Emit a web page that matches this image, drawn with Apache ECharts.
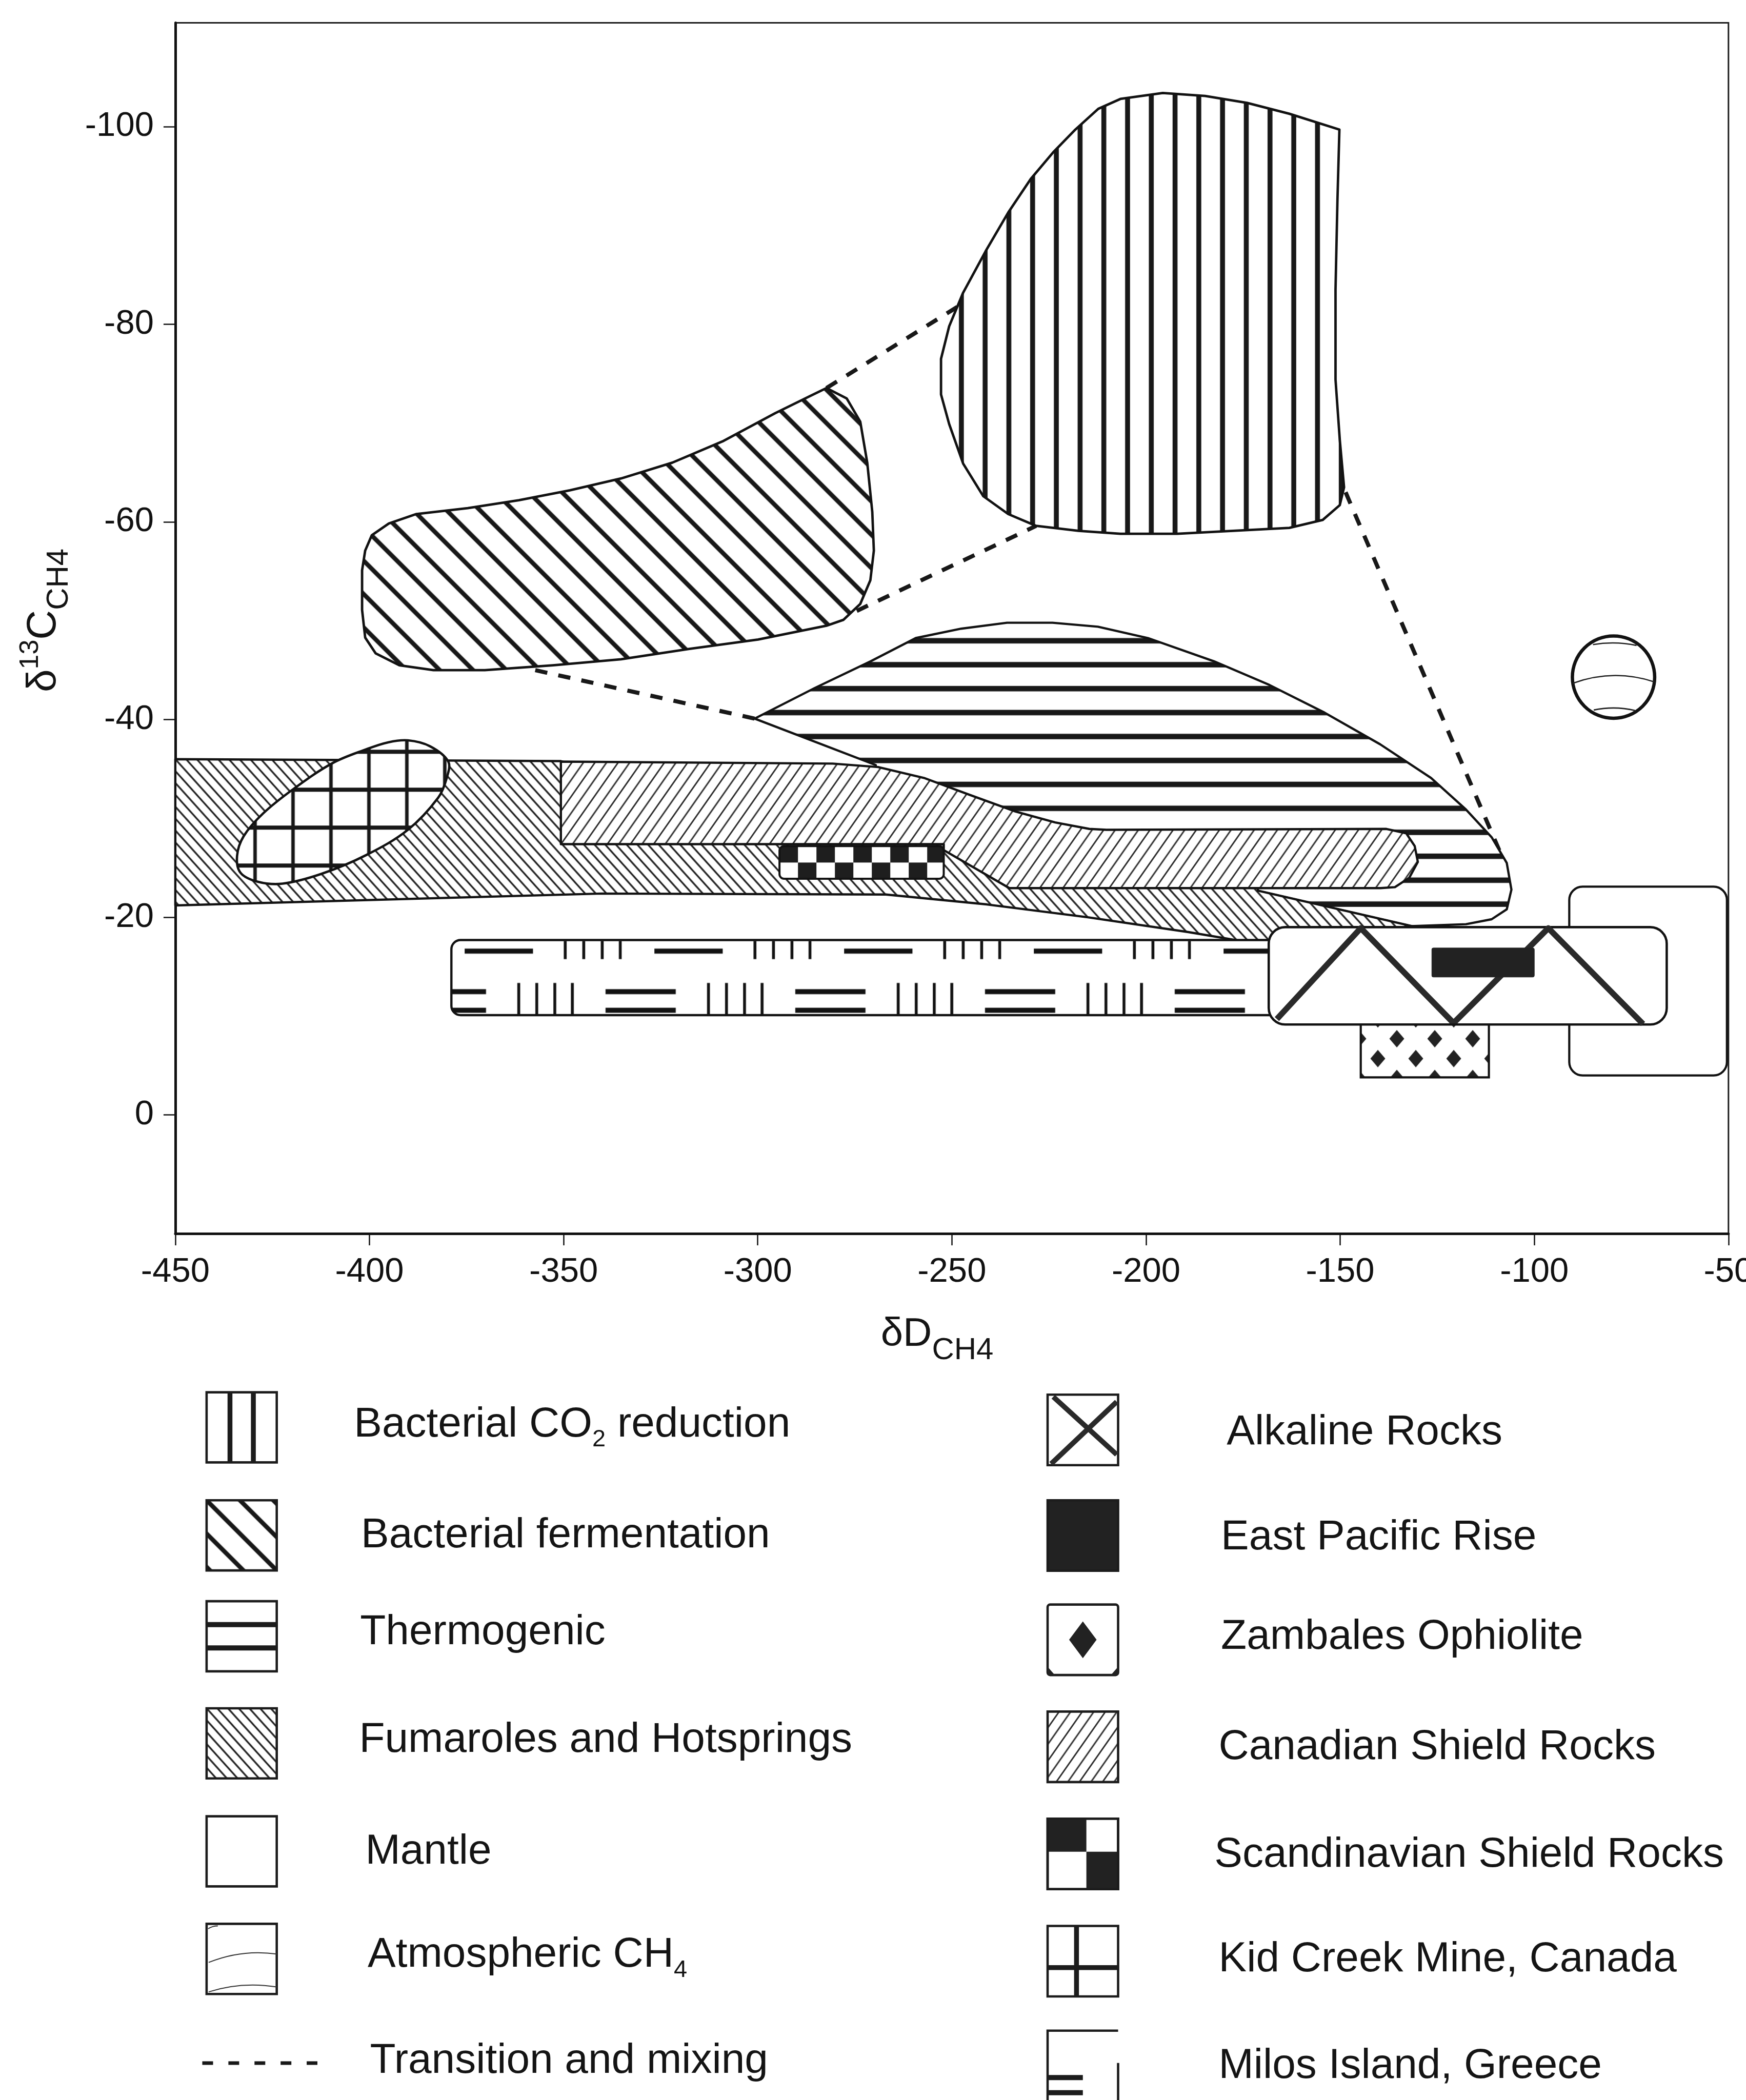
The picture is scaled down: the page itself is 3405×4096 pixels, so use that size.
<!DOCTYPE html>
<html>
<head>
<meta charset="utf-8">
<title>Methane isotope fields</title>
<script src="https://cdn.jsdelivr.net/npm/echarts@6/dist/echarts.min.js"></script>
<style>
html,body{margin:0;padding:0;background:#ffffff;}
#chart{width:3405px;height:4096px;}
</style>
</head>
<body>
<div id="chart"></div>
<script>
// ================= DATA =================
const xTicks = [-450, -400, -350, -300, -250, -200, -150, -100, -50];
const yTicks = [-100, -80, -60, -40, -20, 0];

// field outlines: [deltaD, delta13C]
const co2Reduction = [
  [-150.2,-99.7],[-163.1,-101.3],[-174.0,-102.4],[-184.8,-103.1],[-195.7,-103.4],[-206.6,-102.8],
  [-212.3,-101.8],[-218.2,-99.7],[-223.9,-97.4],[-229.7,-94.7],[-235.5,-91.3],[-241.3,-87.4],
  [-247.1,-83.2],[-250.7,-79.8],[-252.8,-76.5],[-252.8,-72.9],[-250.7,-69.9],[-247.1,-65.9],
  [-241.9,-62.6],[-235.5,-60.8],[-228.3,-59.6],[-217.4,-59.1],[-206.6,-58.8],[-192.0,-58.8],
  [-177.6,-59.1],[-163.1,-59.4],[-154.5,-60.2],[-150.1,-61.7],[-149.0,-63.5],[-150.1,-68.3],
  [-151.2,-74.4],[-151.2,-83.5],[-150.7,-92.6]
];
const fermentation = [
  [-282.3,-73.55],[-277.1,-72.5],[-273.6,-70.15],[-271.8,-66.0],[-270.5,-61.0],[-270.1,-57.1],
  [-271.0,-54.1],[-273.6,-51.7],[-277.9,-50.1],[-282.3,-49.5],[-299.9,-48.1],[-317.6,-47.15],
  [-335.2,-46.1],[-352.7,-45.5],[-370.3,-45.0],[-383.5,-45.0],[-392.3,-45.5],[-398.4,-46.7],
  [-401.1,-48.3],[-401.9,-51.1],[-401.9,-55.1],[-401.1,-57.1],[-399.4,-58.65],[-395.0,-59.85],
  [-387.9,-60.8],[-374.7,-61.4],[-361.5,-62.2],[-348.4,-63.2],[-335.2,-64.4],[-322.0,-66.0],
  [-308.8,-68.2],[-295.5,-71.0],[-286.7,-72.7]
];
const thermogenic = [
  [-300.8,-40.1],[-285.3,-43.2],[-270.9,-45.9],[-259.3,-48.25],[-247.6,-49.2],[-235.8,-49.8],
  [-224.1,-49.8],[-212.4,-49.4],[-199.5,-48.25],[-182.5,-45.9],[-168.2,-43.5],[-154.0,-40.7],
  [-139.7,-37.5],[-126.6,-34.1],[-117.6,-30.9],[-111.0,-28.1],[-107.1,-25.5],[-105.9,-22.8],
  [-107.1,-20.8],[-111.0,-19.8],[-117.6,-19.3],[-131.8,-19.1],[-171.5,-22.7],[-214.5,-25.6],
  [-263.3,-31.3],[-269.6,-34.2],[-269.6,-35.4]
];
const fumaroles = [
  [-450,-36.0],[-350.7,-35.8],[-312.1,-31.3],[-238.9,-26.5],[-171.2,-23.2],[-171.2,-22.7],
  [-131.5,-19.1],[-130.3,-18.2],[-163.2,-18.2],[-168.1,-17.35],[-171.8,-17.35],[-189.1,-18.5],
  [-215.0,-20.0],[-241.0,-21.3],[-267.0,-22.3],[-340.2,-22.4],[-450,-21.2]
];
const canadianShield = [
  [-350.7,-35.75],[-280.7,-35.55],[-269.0,-35.2],[-257.2,-34.1],[-245.5,-32.4],[-233.6,-30.7],
  [-223.4,-29.6],[-214.6,-28.94],[-210.2,-28.85],[-138.1,-28.94],[-133.0,-28.5],[-130.8,-27.2],
  [-130.0,-25.6],[-132.2,-24.0],[-135.9,-23.05],[-139.6,-22.95],[-235.2,-22.95],[-252.1,-26.8],
  [-252.1,-27.4],[-350.7,-27.4]
];
const kidCreekMine = [
  [-390.1,-37.9],[-384.4,-37.3],[-379.7,-35.75],[-380.1,-34.1],[-382.3,-32.1],[-390.1,-28.85],
  [-400.8,-26.3],[-412.3,-24.4],[-422.4,-23.4],[-428.8,-23.6],[-433.2,-24.5],[-434.1,-26.2],
  [-432.4,-28.2],[-427.4,-30.5],[-419.5,-33.0],[-409.5,-35.6],[-400.8,-37.0],[-395.2,-37.7]
];
// boxes: [[x0, y0], [x1, y1]]
const scandinavianShield = [[-294.4,-27.2],[-252.1,-23.9]];
const milosIsland = [[-378.9,-17.7],[-160.0,-10.1]];
const mantle = [[-91.0,-23.1],[-50.4,-4.0]];
const alkalineRocks = [[-168.4,-19.0],[-65.9,-9.15]];
const alkalineZigzag = [[-166.3,-9.7],[-144.7,-18.9],[-120.8,-9.3],[-96.4,-18.9],[-72.0,-9.2]];
const eastPacificRise = [[-126.4,-16.9],[-100.0,-13.95]];
const zambalesOphiolite = [[-144.7,-9.15],[-111.7,-3.8]];
// atmospheric CH4: [centre dD, centre d13C, radius in dD units]
const atmosphericCH4 = [[-79.6,-44.3,10.6]];
// transition and mixing: [x1, y1, x2, y2]
const mixingLines = [
  [-282.3,-73.55,-248.0,-81.9],
  [-274.5,-51.0,-228.3,-59.6],
  [-357.3,-45.0,-300.8,-40.1],
  [-148.6,-63.0,-108.4,-26.2]
];

const legendLeftLabels = [
  [['Bacterial CO','n'],['2','sub'],[' reduction','n']],
  [['Bacterial fermentation','n']],
  [['Thermogenic','n']],
  [['Fumaroles and Hotsprings','n']],
  [['Mantle','n']],
  [['Atmospheric CH','n'],['4','sub']],
  [['Transition and mixing','n']]
];
const legendRightLabels = [
  [['Alkaline Rocks','n']],
  [['East Pacific Rise','n']],
  [['Zambales Ophiolite','n']],
  [['Canadian Shield Rocks','n']],
  [['Scandinavian Shield Rocks','n']],
  [['Kid Creek Mine, Canada','n']],
  [['Milos Island, Greece','n']]
];
const xAxisTitle = [['δD','n'],['CH4','sub']];
const yAxisTitle = [['δ','n'],['13','sup'],['C','n'],['CH4','sub']];

// ================= STYLE =================
const K = 0.924;
const FONT = '"Liberation Sans", Arial, Helvetica, sans-serif';
const INK = '#181818';
const OUTLINE = '#121212';
const TXT = '#141414';
const HATCH = {
  co2:    {period: 46.3, width: 9.6, angle: 90,  color: INK},
  ferm:   {period: 46.0, width: 8.6, angle: 45,  color: INK},
  thermo: {period: 46.7, width: 10.6, angle: 0,  color: INK},
  fum:    {period: 15.5, width: 3.4, angle: 48,  color: '#222'},
  canad:  {period: 18.5, width: 2.9, angle: -55, color: '#2c2c2c'}
};

const mctx = document.createElement('canvas').getContext('2d');
function textWidth(t, size) { mctx.font = size + 'px ' + FONT; return mctx.measureText(t).width; }
function newCanvas(w, h) { const c = document.createElement('canvas'); c.width = w; c.height = h; return c; }

const tileCache = {};
function stripeTile(key, period, width, color) {
  if (tileCache[key]) return tileCache[key];
  const n = 10, H = Math.round(period * n), p = H / n;
  const c = newCanvas(8, H), g = c.getContext('2d');
  g.fillStyle = '#ffffff'; g.fillRect(0, 0, 8, H);
  g.fillStyle = color;
  for (let i = 0; i <= n; i++) g.fillRect(0, i * p - width / 2, 8, width);
  tileCache[key] = c; return c;
}
function hatchFill(name, x0, y0) {
  const h = HATCH[name];
  return {image: stripeTile(name, h.period, h.width, h.color), repeat: 'repeat', x: x0, y: y0, rotation: h.angle * Math.PI / 180};
}
function gridFill(x0, y0) {
  if (!tileCache.grid) {
    const n = 5, T = Math.round(80 * K * n), q = T / n;
    const c = newCanvas(T, T), g = c.getContext('2d');
    g.fillStyle = '#fff'; g.fillRect(0, 0, T, T);
    g.fillStyle = INK;
    for (let i = 0; i <= n; i++) { g.fillRect(i * q - 3.4, 0, 6.8, T); g.fillRect(0, i * q - 4, T, 8); }
    tileCache.grid = c;
  }
  return {image: tileCache.grid, repeat: 'repeat', x: x0, y: y0};
}
function checkerFill(x0, y0, h) {
  const W = Math.round(39.2 * K * 2), H = Math.max(2, Math.round(h));
  const c = newCanvas(W, H), g = c.getContext('2d');
  g.fillStyle = '#fff'; g.fillRect(0, 0, W, H);
  g.fillStyle = '#1e1e1e';
  g.fillRect(0, 0, W / 2, H / 2); g.fillRect(W / 2, H / 2, W / 2, H - H / 2);
  return {image: c, repeat: 'repeat', x: x0, y: y0};
}
function milosFill(x0, y0, h) {
  const W = Math.round(400 * K), s = W / 400, H = Math.max(2, Math.round(h)), t = H / 158;
  const c = newCanvas(W, H), g = c.getContext('2d');
  g.fillStyle = '#fff'; g.fillRect(0, 0, W, H);
  g.fillStyle = '#121212';
  g.fillRect(0, 18 * t, 144 * s, 10.5 * t);
  [212, 251, 290, 328].forEach(v => g.fillRect(v * s - 2.8, 2 * t, 5.6, 38 * t));
  [[297, 445], [-103, 45]].forEach(([a, b]) => {
    g.fillRect(a * s, 103 * t, (b - a) * s, 10.5 * t);
    g.fillRect(a * s, 142 * t, (b - a) * s, 10.5 * t);
  });
  [114, 152, 190, 227].forEach(v => g.fillRect(v * s - 2.8, 90 * t, 5.6, H));
  return {image: c, repeat: 'repeat', x: x0 + 28 * s, y: y0};
}
function diamondFill(x0, y0) {
  const W = Math.round(160 * K), H = Math.round(168 * K), sx = W / 160, sy = H / 168;
  const c = newCanvas(W, H), g = c.getContext('2d');
  g.fillStyle = '#fff'; g.fillRect(0, 0, W, H);
  g.fillStyle = '#222';
  const dw = 29, dh = 34, pts = [];
  [0, 80, 160].forEach(a => [0, 84, 168].forEach(b => pts.push([a, b])));
  [40, 120].forEach(a => [42, 126].forEach(b => pts.push([a, b])));
  pts.forEach(([a, b]) => {
    const cx = a * sx, cy = b * sy;
    g.beginPath(); g.moveTo(cx, cy - dh / 2); g.lineTo(cx + dw / 2, cy); g.lineTo(cx, cy + dh / 2); g.lineTo(cx - dw / 2, cy); g.closePath(); g.fill();
  });
  return {image: c, repeat: 'repeat', x: x0 + 36 * sx, y: y0 - 12 * sy};
}

// ================= SERIES BUILDERS =================
function polygonSeries(name, points, fillFn, opt) {
  opt = opt || {};
  return {
    type: 'custom', name: name, coordinateSystem: 'cartesian2d', data: points, encode: {x: 0, y: 1},
    silent: true, animation: false,
    renderItem: function (params, api) {
      if (params.dataIndex !== 0) return null;
      const pts = points.map(p => api.coord(p));
      let x1 = Infinity, y1 = Infinity, x2 = -Infinity, y2 = -Infinity;
      pts.forEach(([a, b]) => { x1 = Math.min(x1, a); y1 = Math.min(y1, b); x2 = Math.max(x2, a); y2 = Math.max(y2, b); });
      return {
        type: 'polygon', shape: {points: pts, smooth: opt.smooth || 0},
        style: {fill: fillFn({x: x1, y: y1, w: x2 - x1, h: y2 - y1}), stroke: OUTLINE, lineWidth: opt.lw || 4.4, lineJoin: 'round'}
      };
    }
  };
}
function boxSeries(name, box, makeEl) {
  return {
    type: 'custom', name: name, coordinateSystem: 'cartesian2d',
    data: [[box[0][0], box[0][1], box[1][0], box[1][1]]], encode: {x: [0, 2], y: [1, 3]},
    silent: true, animation: false,
    renderItem: function (params, api) {
      const a = api.coord([api.value(0), api.value(1)]);
      const b = api.coord([api.value(2), api.value(3)]);
      return makeEl({x: Math.min(a[0], b[0]), y: Math.min(a[1], b[1]), w: Math.abs(b[0] - a[0]), h: Math.abs(b[1] - a[1])});
    }
  };
}

const series = [
  {
    type: 'custom', name: 'Transition and mixing', coordinateSystem: 'cartesian2d', data: mixingLines,
    encode: {x: [0, 2], y: [1, 3]}, silent: true, animation: false,
    renderItem: function (params, api) {
      const a = api.coord([api.value(0), api.value(1)]);
      const b = api.coord([api.value(2), api.value(3)]);
      return {type: 'line', shape: {x1: a[0], y1: a[1], x2: b[0], y2: b[1]},
        style: {stroke: INK, lineWidth: 8, lineDash: [24, 22], lineCap: 'butt'}};
    }
  },
  polygonSeries('Thermogenic', thermogenic, bb => hatchFill('thermo', 0, bb.y + 35.1)),
  polygonSeries('Bacterial CO2 reduction', co2Reduction, bb => hatchFill('co2', bb.x + 39.7, 0), {lw: 4.8}),
  polygonSeries('Bacterial fermentation', fermentation, bb => hatchFill('ferm', bb.x + 56.5, bb.y), {lw: 4.8}),
  polygonSeries('Fumaroles and Hotsprings', fumaroles, bb => hatchFill('fum', bb.x, bb.y), {lw: 4.4}),
  polygonSeries('Canadian Shield Rocks', canadianShield, bb => hatchFill('canad', bb.x, bb.y), {lw: 4.4}),
  boxSeries('Scandinavian Shield Rocks', scandinavianShield, r => ({
    type: 'rect', shape: {x: r.x, y: r.y, width: r.w, height: r.h, r: 9},
    style: {fill: checkerFill(r.x, r.y, r.h), stroke: OUTLINE, lineWidth: 4}
  })),
  polygonSeries('Kid Creek Mine, Canada', kidCreekMine, bb => gridFill(bb.x + 35.1, bb.y + 22.2), {smooth: 0.35, lw: 4.6}),
  boxSeries('Milos Island, Greece', milosIsland, r => ({
    type: 'rect', shape: {x: r.x, y: r.y, width: r.w, height: r.h, r: [18, 0, 0, 18]},
    style: {fill: milosFill(r.x, r.y, r.h), stroke: OUTLINE, lineWidth: 4.4}
  })),
  boxSeries('Mantle', mantle, r => ({
    type: 'rect', shape: {x: r.x, y: r.y, width: r.w, height: r.h, r: 26},
    style: {fill: '#ffffff', stroke: OUTLINE, lineWidth: 4.2}
  })),
  boxSeries('Alkaline Rocks', alkalineRocks, r => ({
    type: 'rect', shape: {x: r.x, y: r.y, width: r.w, height: r.h, r: 32},
    style: {fill: '#ffffff', stroke: OUTLINE, lineWidth: 4.6}
  })),
  {
    type: 'custom', name: 'Alkaline pattern', coordinateSystem: 'cartesian2d', data: alkalineZigzag,
    encode: {x: 0, y: 1}, silent: true, animation: false,
    renderItem: function (params, api) {
      if (params.dataIndex !== 0) return null;
      return {type: 'polyline', shape: {points: alkalineZigzag.map(p => api.coord(p))},
        style: {stroke: '#2a2a2a', lineWidth: 11.5, lineJoin: 'round', fill: null}};
    }
  },
  boxSeries('East Pacific Rise', eastPacificRise, r => ({
    type: 'rect', shape: {x: r.x, y: r.y, width: r.w, height: r.h, r: 3},
    style: {fill: '#222', stroke: '#222', lineWidth: 1}
  })),
  boxSeries('Zambales Ophiolite', zambalesOphiolite, r => ({
    type: 'rect', shape: {x: r.x, y: r.y, width: r.w, height: r.h},
    style: {fill: diamondFill(r.x, r.y), stroke: OUTLINE, lineWidth: 4.2}
  })),
  {
    type: 'custom', name: 'Atmospheric CH4', coordinateSystem: 'cartesian2d', data: atmosphericCH4,
    encode: {x: 0, y: 1}, silent: true, animation: false,
    renderItem: function (params, api) {
      const c = api.coord([api.value(0), api.value(1)]);
      const r = api.size([api.value(2), 0])[0];
      const cx = c[0], cy = c[1];
      const arc = (x1, y1, x2, y2, qx, qy) => ({type: 'bezierCurve',
        shape: {x1: cx + x1 * r, y1: cy + y1 * r, x2: cx + x2 * r, y2: cy + y2 * r, cpx1: cx + qx * r, cpy1: cy + qy * r},
        style: {stroke: '#222', lineWidth: 2.6, fill: null}});
      return {type: 'group', children: [
        {type: 'circle', shape: {cx: cx, cy: cy, r: r}, style: {fill: '#fff', stroke: OUTLINE, lineWidth: 6.5}},
        arc(-0.5, -0.79, 0.56, -0.77, 0.03, -0.88),
        arc(-0.99, 0.15, 0.99, 0.115, 0, -0.21),
        arc(-0.48, 0.8, 0.52, 0.81, 0.02, 0.695)
      ]};
    }
  }
];

// ================= TEXT / LEGEND GRAPHICS =================
function richText(x, y, segs, sz) {
  const out = []; let cx = x;
  segs.forEach(([t, kind]) => {
    const fs = kind === 'n' ? sz.n : (kind === 'sub' ? sz.sub : sz.sup);
    const dy = kind === 'sub' ? sz.subDy : (kind === 'sup' ? sz.supDy : 0);
    out.push({type: 'text', x: cx, y: y + dy, silent: true,
      style: {text: t, fontSize: fs, fontFamily: FONT, fill: TXT, align: 'left', verticalAlign: 'middle'}});
    cx += textWidth(t, fs);
  });
  return out;
}

function legendGraphics() {
  const els = [];
  const SW = 4.6, ST = '#1c1c1c';
  const box = (x, y, s, fill) => ({type: 'rect', shape: {x: x, y: y, width: s, height: s}, style: {fill: fill || '#fff', stroke: ST, lineWidth: SW}});
  const ln = (x1, y1, x2, y2, w, col) => ({type: 'line', shape: {x1: x1, y1: y1, x2: x2, y2: y2}, style: {stroke: col || ST, lineWidth: w}});
  const LX = 402.9, LS = 136.8, LT = [2715.6, 2926.3, 3123.1, 3332.0, 3542.6, 3752.4];
  const RX = 2043, RS = 137.5, RT = [2720.3, 2926.3, 3129.6, 3338.4, 3547.2, 3756.5, 3960.7];

  // left column swatches
  let y = LT[0];
  els.push(box(LX, y, LS), ln(LX + LS / 3, y, LX + LS / 3, y + LS, 9.5), ln(LX + 2 * LS / 3, y, LX + 2 * LS / 3, y + LS, 9.5));
  y = LT[1]; els.push(box(LX, y, LS, hatchFill('ferm', LX, y)));
  y = LT[2]; els.push(box(LX, y, LS), ln(LX, y + LS / 3, LX + LS, y + LS / 3, 10), ln(LX, y + 2 * LS / 3, LX + LS, y + 2 * LS / 3, 10));
  y = LT[3]; els.push(box(LX, y, LS, hatchFill('fum', LX, y)));
  y = LT[4]; els.push(box(LX, y, LS));
  y = LT[5]; els.push(box(LX, y, LS),
    {type: 'bezierCurve', shape: {x1: LX + 4, y1: y + 0.55 * LS, x2: LX + LS, y2: y + 0.43 * LS, cpx1: LX + 0.5 * LS, cpy1: y + 0.36 * LS}, style: {stroke: '#333', lineWidth: 2, fill: null}},
    {type: 'bezierCurve', shape: {x1: LX + 4, y1: y + 0.97 * LS, x2: LX + LS, y2: y + 0.9 * LS, cpx1: LX + 0.5 * LS, cpy1: y + 0.82 * LS}, style: {stroke: '#333', lineWidth: 2, fill: null}},
    {type: 'bezierCurve', shape: {x1: LX + 3, y1: y + 0.07 * LS, x2: LX + 0.16 * LS, y2: y + 0.03 * LS, cpx1: LX + 0.08 * LS, cpy1: y + 0.03 * LS}, style: {stroke: '#333', lineWidth: 2, fill: null}});
  els.push({type: 'line', shape: {x1: 394.5, y1: 4024, x2: 619, y2: 4024}, style: {stroke: INK, lineWidth: 7, lineDash: [21, 29.9]}});

  // right column swatches
  y = RT[0]; els.push(box(RX, y, RS),
    ln(RX + 0.05 * RS, y + 0.98 * RS, RX + 0.98 * RS, y + 0.10 * RS, 10, '#2a2a2a'),
    ln(RX + 0.08 * RS, y + 0.03 * RS, RX + 0.98 * RS, y + 0.85 * RS, 10, '#2a2a2a'));
  y = RT[1]; els.push(box(RX, y, RS, '#222'));
  y = RT[2];
  const dcx = RX + RS / 2, dcy = y + RS / 2;
  els.push({type: 'rect', shape: {x: RX, y: y, width: RS, height: RS, r: 5}, style: {fill: '#fff', stroke: ST, lineWidth: SW}},
    {type: 'polygon', shape: {points: [[dcx, dcy - 35.8], [dcx + 26.8, dcy], [dcx, dcy + 35.8], [dcx - 26.8, dcy]]}, style: {fill: '#222'}},
    {type: 'polygon', shape: {points: [[RX, y + RS - 16], [RX + 14, y + RS], [RX, y + RS]]}, style: {fill: '#222'}},
    {type: 'polygon', shape: {points: [[RX + RS, y + RS - 16], [RX + RS - 14, y + RS], [RX + RS, y + RS]]}, style: {fill: '#222'}});
  y = RT[3]; els.push(box(RX, y, RS, hatchFill('canad', RX, y)));
  y = RT[4]; els.push(box(RX, y, RS),
    {type: 'rect', shape: {x: RX, y: y, width: 0.55 * RS, height: 0.47 * RS}, style: {fill: '#222'}},
    {type: 'rect', shape: {x: RX + 0.55 * RS, y: y + 0.47 * RS, width: 0.45 * RS, height: 0.53 * RS}, style: {fill: '#222'}},
    {type: 'rect', shape: {x: RX, y: y, width: RS, height: RS}, style: {fill: null, stroke: ST, lineWidth: SW}});
  y = RT[5]; els.push(box(RX, y, RS), ln(RX + 0.41 * RS, y, RX + 0.41 * RS, y + RS, 9.5), ln(RX, y + 0.59 * RS, RX + RS, y + 0.59 * RS, 9.5));
  y = RT[6]; els.push(
    {type: 'polyline', shape: {points: [[RX, y + 200], [RX, y], [RX + RS, y]]}, style: {stroke: ST, lineWidth: SW, fill: null}},
    ln(RX + RS, y + 63, RX + RS, y + 200, SW),
    {type: 'rect', shape: {x: RX, y: y + 86.5, width: 0.5 * RS, height: 10}, style: {fill: '#1c1c1c'}},
    {type: 'rect', shape: {x: RX, y: y + 116, width: 0.5 * RS, height: 10}, style: {fill: '#1c1c1c'}});

  // legend texts
  const sz = {n: 82, sub: 47, sup: 47, subDy: 29, supDy: -26};
  const LTX = [690.2, 704, 702.2, 700.4, 712.4, 717, 721.6];
  const LTY = [2779.4, 2995.1, 3184.1, 3394.8, 3611.9, 3813.8, 4020.3];
  legendLeftLabels.forEach((segs, i) => richText(LTX[i], LTY[i], segs, sz).forEach(e => els.push(e)));
  const RTX = [2392.2, 2381.1, 2381.1, 2376.5, 2368.2, 2376.5, 2376.5];
  const RTY = [2794.2, 2999.3, 3193.3, 3408.6, 3618.4, 3822.6, 4030.5];
  legendRightLabels.forEach((segs, i) => richText(RTX[i], RTY[i], segs, sz).forEach(e => els.push(e)));

  // axis titles
  richText(1717.7, 2603, xAxisTitle, {n: 78, sub: 60, sup: 50, subDy: 31, supDy: -26}).forEach(e => els.push(e));
  els.push({type: 'group', x: 86, y: 1350, rotation: Math.PI / 2, silent: true,
    children: richText(0, 0, yAxisTitle, {n: 80, sub: 60, sup: 52, subDy: 29, supDy: -26})});
  return els;
}

// ================= CHART =================
const chart = echarts.init(document.getElementById('chart'), null, {renderer: 'canvas', width: 3405, height: 4096});
const axisFont = {fontSize: 67, fontFamily: FONT, color: '#111'};
chart.setOption({
  backgroundColor: '#ffffff',
  animation: false,
  grid: {left: 341.9, top: 44.5, right: 34.2, bottom: 1690, show: true, borderColor: '#1c1c1c', borderWidth: 3,
    backgroundColor: 'rgba(0,0,0,0)', containLabel: false, outerBoundsMode: 'none'},
  xAxis: {
    type: 'value', min: -450, max: -50, interval: 50, position: 'bottom',
    splitLine: {show: false},
    axisLine: {show: true, onZero: false, lineStyle: {color: '#111', width: 5}},
    axisTick: {show: true, inside: false, length: 23, customValues: xTicks, lineStyle: {color: '#111', width: 2.5}},
    axisLabel: Object.assign({show: true, margin: 42, customValues: xTicks, showMinLabel: true, showMaxLabel: true}, axisFont)
  },
  yAxis: {
    type: 'value', min: -110.5, max: 12, inverse: true, position: 'left',
    splitLine: {show: false},
    axisLine: {show: true, onZero: false, lineStyle: {color: '#111', width: 5}},
    axisTick: {show: true, inside: false, length: 23, customValues: yTicks, lineStyle: {color: '#111', width: 2.5}},
    axisLabel: Object.assign({show: true, margin: 42, customValues: yTicks}, axisFont)
  },
  series: series,
  graphic: {elements: legendGraphics()}
});
</script>
</body>
</html>
